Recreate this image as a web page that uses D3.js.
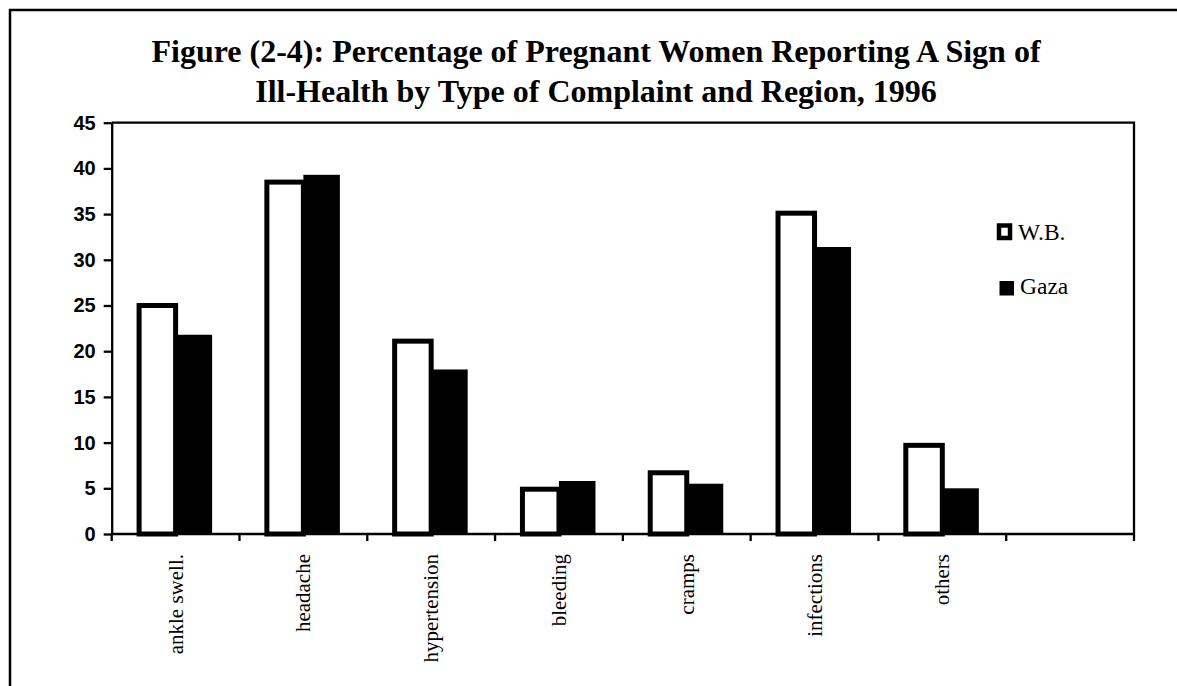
<!DOCTYPE html>
<html>
<head>
<meta charset="utf-8">
<script src="https://cdn.jsdelivr.net/npm/d3@7"></script>
<style>
  html, body { margin: 0; padding: 0; background: #fff; }
  svg { display: block; }
</style>
</head>
<body>
<svg id="chart" width="1177" height="686"></svg>
<script>
// ---- data ----
const categories = ["ankle swell.", "headache", "hypertension", "bleeding", "cramps", "infections", "others"];
const seriesNames = ["W.B.", "Gaza"];
const wbValues   = [25.0, 38.5, 21.1, 4.9, 6.7, 35.1, 9.7];
const gazaValues = [21.8, 39.3, 18.0, 5.8, 5.5, 31.4, 5.0];
const yTicks = [0, 5, 10, 15, 20, 25, 30, 35, 40, 45];
const titleLines = [
  "Figure (2-4): Percentage of Pregnant Women Reporting A Sign of",
  "Ill-Health by Type of Complaint and Region, 1996"
];

const svg = d3.select("#chart");

// outer frame
svg.append("rect")
  .attr("x", 10).attr("y", 10)
  .attr("width", 1300).attr("height", 800)
  .attr("fill", "none").attr("stroke", "#000").attr("stroke-width", 2.5);

// title
svg.append("g").selectAll("text").data(titleLines).join("text")
  .attr("x", 596)
  .attr("y", (d, i) => 62 + i * 40)
  .attr("text-anchor", "middle")
  .attr("font-family", "'Liberation Serif', 'Times New Roman', serif")
  .attr("font-weight", "bold")
  .attr("font-size", 32)
  .attr("fill", "#000")
  .text(d => d);

const plot = { left: 111.7, right: 1134, top: 122.7, bottom: 534 };

// x band scale: seven categories plus one empty slot
const slots = categories.concat([""]);
const x = d3.scaleBand().domain(slots.map((d, i) => i)).range([plot.left, plot.right]).paddingInner(0).paddingOuter(0);
const xInner = d3.scaleBand().domain(seriesNames).range([0, x.bandwidth()]).paddingInner(0).paddingOuter(0.75);
const y = d3.scaleLinear().domain([0, 45]).range([plot.bottom, plot.top]);

// plot area top and right border
svg.append("path")
  .attr("d", `M${plot.left},${y(45)}H${plot.right}V${plot.bottom}`)
  .attr("fill", "none").attr("stroke", "#000").attr("stroke-width", 2.3);

// bars
const rows = categories.map((c, i) => ({ i, c, wb: wbValues[i], gaza: gazaValues[i] }));
svg.append("g").selectAll("rect").data(rows).join("rect")
  .attr("x", d => x(d.i) + xInner("W.B."))
  .attr("y", d => y(d.wb))
  .attr("width", xInner.bandwidth())
  .attr("height", d => y(0) - y(d.wb))
  .attr("fill", "#fff").attr("stroke", "#000").attr("stroke-width", 5);
svg.append("g").selectAll("rect").data(rows).join("rect")
  .attr("x", d => x(d.i) + xInner("Gaza"))
  .attr("y", d => y(d.gaza))
  .attr("width", xInner.bandwidth())
  .attr("height", d => y(0) - y(d.gaza))
  .attr("fill", "#000");

// y axis
const yAxis = svg.append("g")
  .attr("transform", `translate(${plot.left},0)`)
  .call(d3.axisLeft(y).tickValues(yTicks).tickSize(8).tickSizeOuter(0).tickPadding(8));
yAxis.select(".domain").attr("stroke-width", 2.3);
yAxis.selectAll(".tick line").attr("stroke-width", 2.3);
yAxis.selectAll(".tick text")
  .attr("font-family", "'Liberation Sans', Arial, sans-serif")
  .attr("font-weight", "bold")
  .attr("font-size", 20)
  .attr("fill", "#000");

// x axis: line and boundary ticks
const xAxis = svg.append("g").attr("transform", `translate(0,${plot.bottom})`);
xAxis.append("line").attr("x1", plot.left).attr("x2", plot.right)
  .attr("stroke", "#000").attr("stroke-width", 2.3);
const boundaries = slots.map((d, i) => x(i)).concat([x(slots.length - 1) + x.bandwidth()]);
xAxis.selectAll("line.tk").data(boundaries).join("line").attr("class", "tk")
  .attr("x1", d => d).attr("x2", d => d).attr("y1", 0).attr("y2", 7)
  .attr("stroke", "#000").attr("stroke-width", 2.3);
xAxis.selectAll("text").data(categories).join("text")
  .attr("transform", (d, i) => `translate(${x(i) + x.bandwidth() / 2 + 7},20) rotate(-90)`)
  .attr("text-anchor", "end")
  .attr("font-family", "'Liberation Serif', 'Times New Roman', serif")
  .attr("font-size", 21)
  .attr("fill", "#000")
  .text(d => d);

// legend
const legend = svg.append("g");
legend.append("rect").attr("x", 999).attr("y", 225.5).attr("width", 11).attr("height", 12.5)
  .attr("fill", "#fff").attr("stroke", "#000").attr("stroke-width", 4.5);
legend.append("rect").attr("x", 999.5).attr("y", 281).attr("width", 14.5).attr("height", 14.5)
  .attr("fill", "#000");
legend.selectAll("text").data(seriesNames).join("text")
  .attr("x", (d, i) => i === 0 ? 1018 : 1020)
  .attr("y", (d, i) => i === 0 ? 240 : 294)
  .attr("font-family", "'Liberation Serif', 'Times New Roman', serif")
  .attr("font-size", 23.5)
  .attr("fill", "#000")
  .text(d => d);
</script>
</body>
</html>
